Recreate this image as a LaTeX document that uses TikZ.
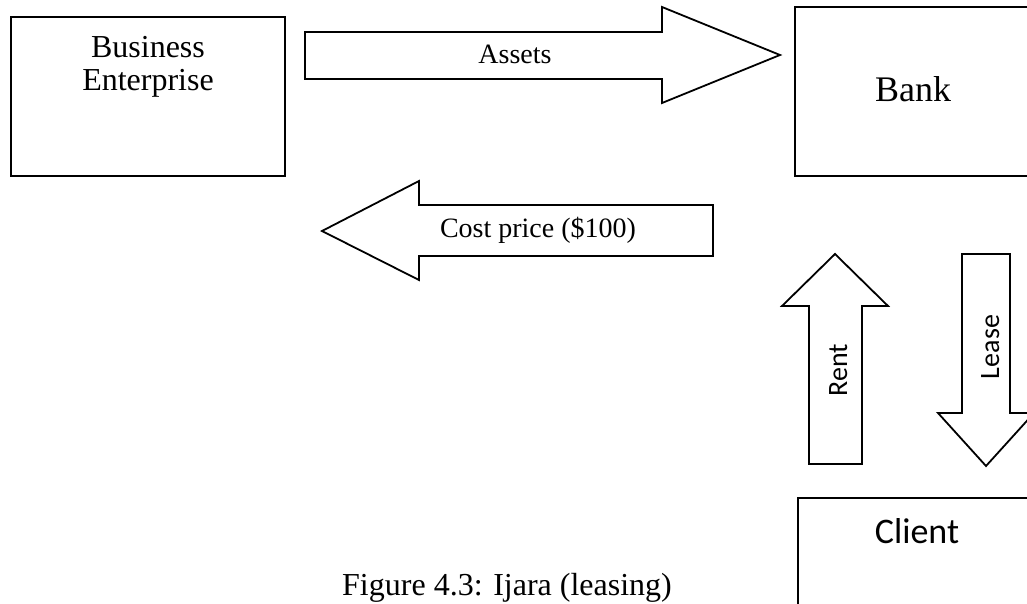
\documentclass[tikz,border=0pt]{standalone}
\usepackage{fontspec}
\setmainfont{Liberation Serif}
\newfontfamily\calibrifont{Carlito}
\tikzset{
  box/.style={draw, line width=1.8pt},
  blockarrow/.style={draw, line width=1.8pt, line join=miter},
  serif/.style={inner sep=0pt, anchor=base, font=\fontsize{#1}{#1}\selectfont},
  sans/.style={inner sep=0pt, anchor=base, font=\calibrifont\fontsize{#1}{#1}\selectfont}
}
\begin{document}
\begin{tikzpicture}[x=1pt,y=-1pt]
    \useasboundingbox (0,0) rectangle (1027,604);
    \clip (0,0) rectangle (1027,604);

    % Cajas
    \draw[box] (11,17) rectangle (285,176);
    \draw[box] (795,7) rectangle (1031,176);
    \draw[box] (798,498) rectangle (1034,640);

    % Flechas
    \draw[blockarrow] (305,32) -- (662,32) -- (662,7) -- (780,55) -- (662,103) -- (662,79) -- (305,79) -- cycle;
    \draw[blockarrow] (713,205) -- (419,205) -- (419,181) -- (322,231) -- (419,280) -- (419,256) -- (713,256) -- cycle;
    \draw[blockarrow] (809,464) -- (809,306) -- (782,306) -- (835,254) -- (888,306) -- (862,306) -- (862,464) -- cycle;
    \draw[blockarrow] (962,254) -- (1010,254) -- (1010,413) -- (1034,413) -- (986,466) -- (938,413) -- (962,413) -- cycle;

    % Etiquetas
    \node[serif=32] (business) at (148,58) {Business};
    \node[serif=32] (enterprise) at (148,91) {Enterprise};
    \node[serif=36] (bank) at (913,102) {Bank};
    \node[serif=28] (assets) at (515,64) {Assets};
    \node[serif=28] (cost) at (538,237) {Cost price (\$100)};
    \node[sans=28, rotate=90] (rent) at (847,370) {Rent};
    \node[sans=28, rotate=90] (lease) at (999,347) {Lease};
    \node[sans=36] (client) at (917,543) {Client};
    \node[serif=32, anchor=base west] (caption) at (342,595) {Figure 4.3: Ijara (leasing)};
\end{tikzpicture}
\end{document}
